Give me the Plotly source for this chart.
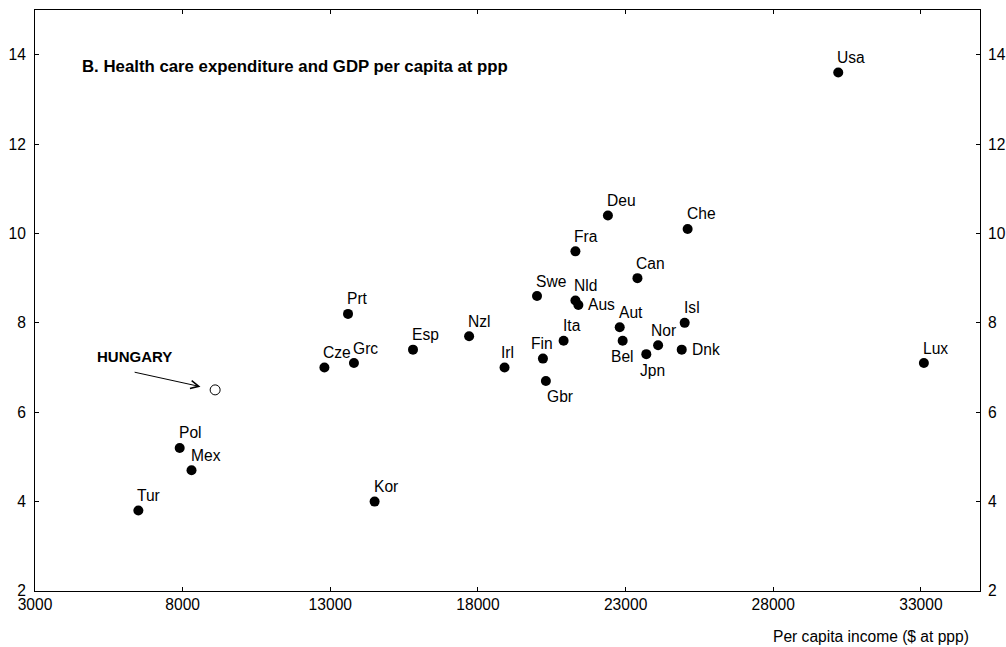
import plotly.graph_objects as go

# OECD countries: GDP per capita ($ at ppp) and health care expenditure (% of GDP)
countries = ["Tur", "Pol", "Mex", "Kor", "Cze", "Prt", "Grc", "Esp", "Nzl", "Irl",
             "Fin", "Gbr", "Swe", "Ita", "Fra", "Nld", "Aus", "Deu", "Aut", "Bel",
             "Can", "Jpn", "Nor", "Dnk", "Isl", "Che", "Usa", "Lux"]
gdp_ppp = [6500, 7900, 8300, 14500, 12800, 13600, 13800, 15800, 17700, 18900,
           20200, 20300, 20000, 20900, 21300, 21300, 21400, 22400, 22800, 22900,
           23400, 23700, 24100, 24900, 25000, 25100, 30200, 33100]
health_exp = [3.8, 5.2, 4.7, 4.0, 7.0, 8.2, 7.1, 7.4, 7.7, 7.0,
              7.2, 6.7, 8.6, 7.6, 9.6, 8.5, 8.4, 10.4, 7.9, 7.6,
              9.0, 7.3, 7.5, 7.4, 8.0, 10.1, 13.6, 7.1]

hungary_label = "HUNGARY"
hungary_gdp = [9100]
hungary_exp = [6.5]

x_ticks = [3000, 8000, 13000, 18000, 23000, 28000, 33000]
y_ticks = [2, 4, 6, 8, 10, 12, 14]

FONT = "Liberation Sans, Arial, sans-serif"
TXT = 15.6

# label placement: (xanchor, xshift, yanchor, yshift)
ABOVE = ("left", -3, "middle", 15)
label_place = {
    "Aus": ("left", 8, "middle", 0),
    "Dnk": ("left", 8, "middle", 0),
    "Bel": ("center", 0, "middle", -16),
    "Jpn": ("center", 6, "middle", -16),
    "Gbr": ("left", -1, "middle", -16),
    "Fin": ("center", -1, "middle", 15),
    "Irl": ("center", 3, "middle", 15),
    "Nor": ("left", -9, "middle", 15),
}

fig = go.Figure()

fig.add_trace(go.Scatter(
    x=gdp_ppp, y=health_exp, mode="markers",
    marker=dict(size=10, color="black", line=dict(width=0)),
    hoverinfo="text", text=countries, showlegend=False,
))

fig.add_trace(go.Scatter(
    x=hungary_gdp, y=hungary_exp, mode="markers",
    marker=dict(size=10, color="white", line=dict(width=1, color="black")),
    hoverinfo="skip", showlegend=False,
))

# trace on the right-hand axis so it is drawn with its labels
fig.add_trace(go.Scatter(x=[], y=[], yaxis="y2", showlegend=False, hoverinfo="skip"))

annotations = []
for name, gx, hy in zip(countries, gdp_ppp, health_exp):
    xa, xs, ya, ys = label_place.get(name, ABOVE)
    annotations.append(dict(
        x=gx, y=hy, xref="x", yref="y", text=name, showarrow=False,
        xanchor=xa, yanchor=ya, xshift=xs, yshift=ys,
        font=dict(family=FONT, size=TXT, color="black"),
    ))

# Hungary: bold caption with an arrow pointing to the open marker
annotations.append(dict(
    x=hungary_gdp[0], y=hungary_exp[0], xref="x", yref="y",
    text="<b>" + hungary_label + "</b>", showarrow=False,
    xanchor="center", yanchor="middle", xshift=-81, yshift=33,
    font=dict(family=FONT, size=15, color="black"),
))
annotations.append(dict(
    x=hungary_gdp[0], y=hungary_exp[0], xref="x", yref="y",
    text="", showarrow=True, axref="pixel", ayref="pixel", ax=-82, ay=-18,
    arrowhead=5, arrowsize=1.6, arrowwidth=1, arrowcolor="black", standoff=15,
))

# panel title
annotations.append(dict(
    x=0.048, y=0.903, xref="paper", yref="paper", showarrow=False,
    text="<b>B. Health care expenditure and GDP per capita at ppp</b>",
    xanchor="left", yanchor="middle",
    font=dict(family=FONT, size=16.8, color="black"),
))

# x-axis title, right aligned under the axis
annotations.append(dict(
    x=0.99, y=0, xref="paper", yref="paper", showarrow=False,
    text="Per capita income ($ at ppp)", xanchor="right", yanchor="middle",
    yshift=-45, font=dict(family=FONT, size=TXT, color="black"),
))

axis_common = dict(
    showgrid=False, zeroline=False, showline=True, linecolor="black", linewidth=1,
    ticks="inside", ticklen=4, tickcolor="black", tickwidth=1, automargin=False,
    tickfont=dict(family=FONT, size=TXT, color="black"),
)

fig.update_layout(
    width=1006, height=647,
    margin=dict(l=35, r=26, t=10, b=56),
    paper_bgcolor="white", plot_bgcolor="white",
    xaxis=dict(range=[3000, 35000], tickvals=x_ticks, ticktext=[str(v) for v in x_ticks],
               mirror="ticks", ticklabelstandoff=-1, **axis_common),
    yaxis=dict(range=[2, 15], tickvals=y_ticks, ticktext=[str(v) for v in y_ticks],
               ticklabelstandoff=5, **axis_common),
    yaxis2=dict(range=[2, 15], tickvals=y_ticks, ticktext=[str(v) for v in y_ticks],
                overlaying="y", side="right", anchor="x", ticklabelstandoff=4,
                **axis_common),
    annotations=annotations,
    showlegend=False,
)

fig.write_html("out.html")
